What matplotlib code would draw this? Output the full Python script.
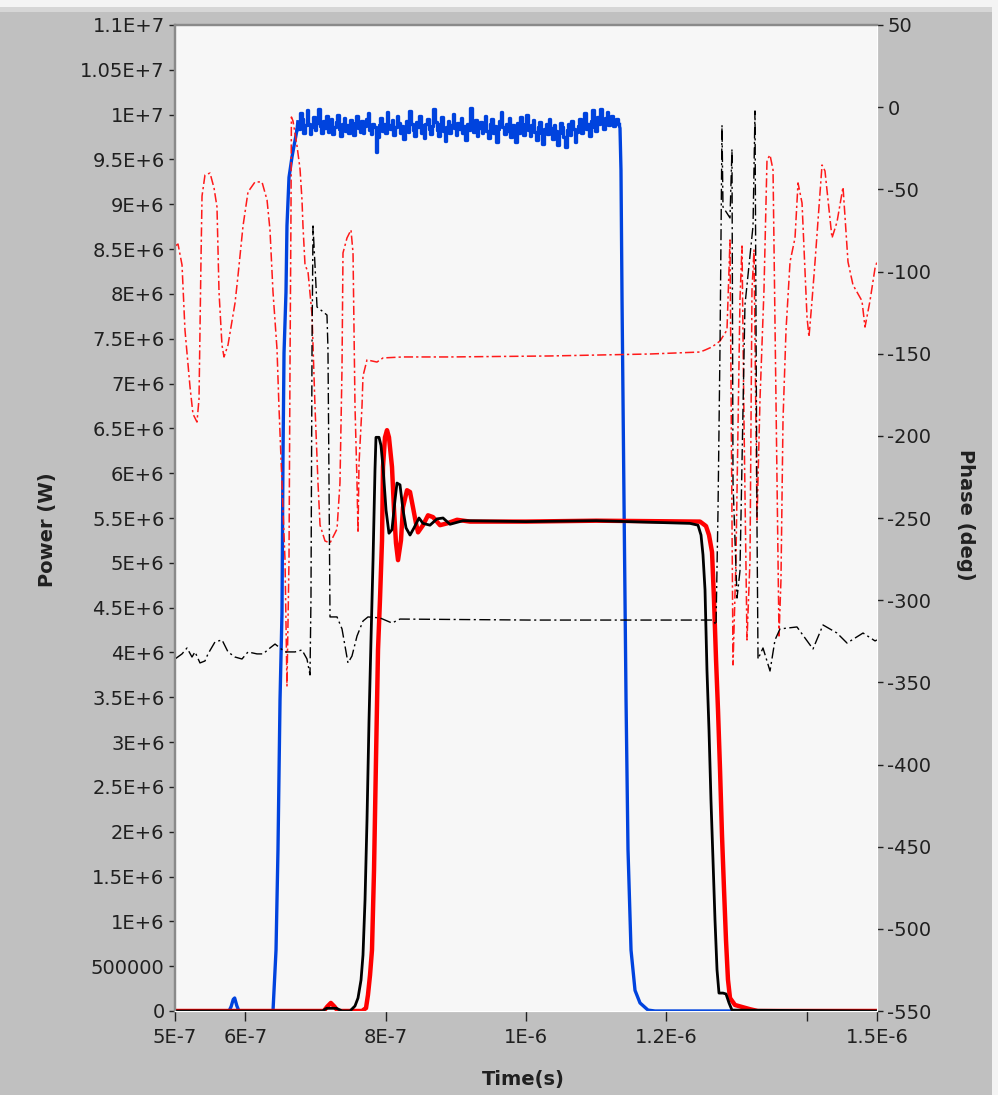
import numpy as np
import matplotlib
matplotlib.use('Agg')
import matplotlib.pyplot as plt
from matplotlib.patches import Rectangle

plt.rcParams['font.family'] = ['DejaVu Sans']

# ---------------- axes / ticks ----------------
x_ticks_ns = [500, 600, 800, 1000, 1200, 1400, 1500]
x_tick_labels = ['5E-7', '6E-7', '8E-7', '1E-6', '1.2E-6', '', '1.5E-6']
power_ticks = [0, 5e5, 1e6, 1.5e6, 2e6, 2.5e6, 3e6, 3.5e6, 4e6, 4.5e6, 5e6, 5.5e6,
               6e6, 6.5e6, 7e6, 7.5e6, 8e6, 8.5e6, 9e6, 9.5e6, 1e7, 1.05e7, 1.1e7]
power_tick_labels = ['0', '500000', '1E+6', '1.5E+6', '2E+6', '2.5E+6', '3E+6', '3.5E+6',
                     '4E+6', '4.5E+6', '5E+6', '5.5E+6', '6E+6', '6.5E+6', '7E+6', '7.5E+6',
                     '8E+6', '8.5E+6', '9E+6', '9.5E+6', '1E+7', '1.05E+7', '1.1E+7']
phase_ticks = [-550, -500, -450, -400, -350, -300, -250, -200, -150, -100, -50, 0, 50]

# ---------------- blue power (MW) ----------------
blue_t = [500, 577, 580, 583, 585, 588, 591, 639.6, 643.9, 646.7, 649.6, 652.4, 653.8,
          655.3, 658.1, 659.5, 662.4, 666.7, 669.5, 673.8]
blue_p = [0, 0, 0.05, 0.13, 0.145, 0.06, 0, 0, 0.68, 1.8, 3.47, 4.44, 6.15,
          7.34, 8.02, 8.76, 9.30, 9.53, 9.65, 9.83]
blue_plateau = [
    9.92, 9.84, 10.02, 9.95, 9.80, 9.88, 10.05, 9.90, 9.78, 9.86, 9.97, 9.83, 9.91, 10.06,
    9.87, 9.79, 9.93, 9.85, 9.98, 9.81, 9.89,
    9.95, 9.78, 9.86, 9.92, 10.00, 9.84, 9.76, 9.90, 9.96, 9.82, 9.88, 9.80, 9.94, 9.87,
    9.77, 9.91, 9.99, 9.85, 9.81, 9.93, 9.79, 9.87, 9.95, 10.02, 9.83, 9.78, 9.90, 9.86,
    9.58, 9.75, 9.88,
    9.96, 9.82, 9.90, 9.79, 10.03, 9.88, 9.84, 9.94, 9.77, 9.86, 9.99, 9.91, 9.80, 9.87,
    9.73, 9.85, 9.93, 9.81, 10.04, 9.89, 9.83, 9.76, 9.92, 9.86, 9.98, 9.80, 9.88, 9.74,
    9.90, 9.95, 9.84,
    9.78, 9.87, 10.06, 9.92, 9.83, 9.76, 9.89, 9.97, 9.82, 9.71, 9.86, 9.93, 9.80, 9.88,
    10.01, 9.85, 9.77, 9.91, 9.84, 9.96, 9.79, 9.87, 9.72, 9.90, 9.83, 10.07, 9.88, 9.81,
    9.94, 9.76, 9.85,
    9.92, 9.79, 9.86, 9.98, 9.82, 9.74, 9.89, 9.95, 9.80, 9.87, 9.70, 9.84, 9.93, 10.03,
    9.86, 9.78, 9.90, 9.82, 9.96, 9.75, 9.88, 9.84, 9.69, 9.91, 9.80, 9.97, 9.85, 9.77,
    9.89, 10.00, 9.83,
    9.76, 9.88, 9.94, 9.81, 9.72, 9.86, 9.92, 9.79, 9.67, 9.84, 9.90, 9.78, 9.95, 9.85,
    9.73, 9.88, 9.82, 9.66, 9.80, 9.91, 9.86, 9.75, 9.64, 9.83, 9.89, 9.77, 9.93, 9.84,
    9.70, 9.81, 9.87,
    9.95, 9.79, 9.88, 10.02, 9.84, 9.90, 9.76, 9.93, 10.05, 9.86, 9.82, 9.97, 9.89, 10.06,
    9.91, 9.84, 9.96, 10.03, 9.88, 9.93, 9.99, 9.87, 9.92, 9.95, 9.90]
blue_plateau_start, blue_plateau_end = 675, 1132
blue_fall_t = [1133.9, 1135.3, 1136.8, 1139.6, 1142.5, 1145.3, 1149.6, 1155.3, 1162.4,
               1173.8, 1183.8, 1500]
blue_fall_p = [9.85, 9.38, 7.93, 5.70, 3.47, 1.80, 0.68, 0.23, 0.09, 0.01, 0, 0]

# ---------------- red power (MW) ----------------
red_t = [500, 712, 717, 722, 727, 732, 766.4, 772.1, 774.9, 777.8, 780.6, 783.5, 786.3, 789.2,
         792.0, 794.9, 796.3, 799.1, 802.0, 804.8, 809.1, 812.0, 814.8, 817.7, 821.9,
         824.8, 830.5, 834.8, 839.0, 843.3, 846.2, 853.3, 860.4, 867.5, 877.5, 887.5,
         901.7, 920.2, 1000, 1100, 1247.9, 1256.4, 1260.7, 1265.0, 1267.8, 1270.7, 1273.5,
         1276.4, 1279.2, 1282.1, 1284.9, 1287.7, 1290.6, 1297.7, 1307.7, 1319.1, 1330, 1500]
red_p = [0, 0, 0.05, 0.09, 0.05, 0, 0, 0.033, 0.18, 0.40, 0.68, 1.57, 2.80, 4.03,
         4.59, 5.25, 6.07, 6.40, 6.48, 6.40, 6.07, 5.59, 5.22, 5.03, 5.25,
         5.62, 5.81, 5.79, 5.62, 5.44, 5.34, 5.42, 5.53, 5.51, 5.42, 5.44,
         5.48, 5.46, 5.46, 5.47, 5.46, 5.41, 5.31, 5.12, 4.59, 3.92, 3.36,
         2.69, 1.96, 1.35, 0.79, 0.35, 0.145, 0.067, 0.045, 0.02, 0, 0]

# ---------------- black power (MW) ----------------
black_t = [500, 710, 716, 730, 738, 749.3, 756.4, 760.7, 765.0, 767.8, 770.7, 773.5, 776.4,
           779.2, 782.1,
           784.9, 786.3, 790.6, 793.4, 796.3, 800.6, 804.8, 809.1, 813.4, 816.2, 820.5,
           824.8, 829.1, 834.8, 840.5, 847.6, 853.3, 863.2, 873.2, 881.8, 891.7, 910.3,
           1000, 1100, 1233.6, 1245.0, 1249.3, 1252.1, 1255.0, 1257.8, 1260.7, 1263.5,
           1266.4, 1269.2, 1272.1, 1274.9, 1280.6, 1284.9, 1289.2, 1293.4, 1500]
black_p = [0, 0, 0.03, 0.03, 0, 0, 0.056, 0.145, 0.346, 0.625, 1.24, 2.13, 3.25, 4.14, 5.03,
           6.04, 6.40, 6.40, 6.31, 6.07, 5.59, 5.33, 5.37, 5.70, 5.89, 5.87,
           5.59, 5.39, 5.31, 5.39, 5.50, 5.44, 5.42, 5.49, 5.50, 5.43, 5.47,
           5.46, 5.47, 5.44, 5.42, 5.31, 5.09, 4.70, 3.80, 3.13, 2.35,
           1.68, 1.02, 0.46, 0.20, 0.20, 0.19, 0.09, 0.01, 0]

# ---------------- red phase (deg) ----------------
red_ph_t = [500, 504.3, 510.0, 514.2, 521.4, 525.6, 531.3, 534.2, 537.0, 538.5, 542.7, 549.9,
            555.6, 559.8, 562.7, 566.9, 569.8, 575.5, 585.5, 589.7, 596.9, 604.0, 614.0,
            623.9, 631.1, 635.3, 639.6, 645.3, 648.1, 652.4, 656.7, 659.5, 662.4, 663.8,
            665.2, 665.8, 668.1, 673.8, 678.1, 680.9, 682.3, 685.2, 689.5, 695.2, 699.4,
            703.7, 706.6, 713.7, 720.8, 730.8, 735.0, 737.9, 739.3, 745.0, 750.7, 753.6,
            756.4, 759.3, 760.7, 762.1, 766.4, 767.8, 773.5, 787.7, 796.3, 824.8, 891.7,
            1034.2, 1176.6, 1247.9, 1255.0, 1265.0, 1276.4, 1286.3,
            1290.6, 1294.9, 1299.1, 1304.8, 1307.7, 1310.5, 1314.8, 1319.1, 1321.9, 1324.8,
            1329.1, 1333.3, 1339.0, 1343.3, 1347.6, 1351.9, 1356.1, 1360.4, 1363.2, 1366.1,
            1370.4, 1376.1, 1383.2, 1387.5, 1393.2, 1400.3, 1403.1, 1407.4, 1411.7, 1421.7,
            1425.9, 1435.9, 1443.0, 1451.6, 1458.7, 1465.8, 1478.6, 1482.9, 1490.0, 1497.2,
            1500]
red_ph = [-84.5, -83.3, -96.0, -135.6, -170.3, -186.7, -191.6, -177.6, -93.6, -54.1, -41.3,
          -40.1, -49.2, -60.7, -112.5, -144.7, -152.0, -144.7, -119.2, -102.7, -72.3, -51.6,
          -45.5, -45.5, -56.5, -74.7, -112.5, -147.2, -182.4, -228.7, -275.5, -352.2, -275.5,
          -158.7, -65.6, -6.0, -8.4, -23.6, -37.6, -56.5, -72.3, -96.0, -100.3, -126.5,
          -181.8, -228.7, -254.3, -264.0, -265.2, -256.7, -228.7, -158.7, -88.7, -79.6,
          -74.7, -88.7, -181.8, -228.7, -259.1, -217.1, -181.8, -163.6, -153.8, -155.1,
          -152.6, -152.0, -152.0, -151.4, -150.2, -149.0, -147.8, -145.9, -142.3, -135.6,
          -80.8, -339.4, -275.5, -117.3, -84.5, -190.4, -324.2, -275.5, -111.3, -86.9,
          -251.2, -178.2, -111.3, -32.1, -29.1, -38.2, -178.2, -321.8, -287.7, -190.4,
          -135.6, -94.2, -79.6, -46.1, -58.3, -127.7, -139.9, -117.9, -94.2, -35.2,
          -38.8, -79.6, -69.9, -48.6, -94.2, -108.2, -117.9, -133.8, -117.9, -97.9,
          -94.2]

# ---------------- black phase (deg) ----------------
black_ph_t = [500, 510.0, 517.1, 524.2, 528.5, 535.6, 542.7, 547.0, 557.0, 567.0, 575.5,
              585.5, 595.4, 604.0, 616.8, 625.4, 635.3, 642.5, 656.7, 670.9, 680.9, 688.0,
              692.3, 693.7, 695.2, 696.6, 699.4, 702.3, 709.4, 716.5, 717.9, 719.4, 720.8,
              730.8, 737.9, 746.4, 752.1, 759.3, 767.8, 774.9, 792.0, 809.1, 820.5, 1005.7,
              1247.9, 1266.4, 1270.7, 1273.5, 1276.4, 1279.2, 1280.6, 1290.6, 1293.4, 1294.9,
              1300.6, 1304.8, 1311.9, 1323.4, 1326.2, 1329.1, 1330.5, 1337.6, 1347.6, 1354.7,
              1361.8, 1386.0, 1408.8, 1423.1, 1443.0, 1457.3, 1480.1, 1497.2, 1500]
black_ph = [-335.8, -332.7, -329.1, -334.6, -331.5, -338.2, -337.0, -332.7, -325.4, -324.2,
            -331.5, -334.6, -335.8, -331.5, -332.7, -332.7, -329.1, -326.7, -331.5, -331.5,
            -330.3, -335.8, -345.5, -298.7, -144.7, -72.3, -96.0, -121.6, -124.0, -126.5,
            -147.2, -228.7, -310.2, -310.2, -317.5, -338.2, -334.0, -321.8, -312.7, -310.2,
            -310.8, -313.9, -311.5, -312.1, -312.1, -312.1, -315.1, -245.7, -144.7, -10.9,
            -60.7, -67.4, -25.5, -228.7, -298.7, -282.2, -120.4, -72.3, -2.3, -256.7,
            -335.8, -329.1, -343.1, -324.2, -317.5, -316.3, -329.7, -315.1, -320.0, -326.1,
            -320.0, -324.8, -324.2]

# ---------------- figure ----------------
W, H = 998, 1095
fig = plt.figure(figsize=(W / 100, H / 100), dpi=100)
fig.patch.set_facecolor('#c0c0c0')
fig.patches.append(Rectangle((0, 1 - 7 / H), 1, 7 / H, transform=fig.transFigure,
                             facecolor='#f4f4f4', edgecolor='none', zorder=0))
fig.patches.append(Rectangle((0, 1 - 12 / H), 1, 5 / H, transform=fig.transFigure,
                             facecolor='#d6d6d6', edgecolor='none', zorder=0))
fig.patches.append(Rectangle((1 - 6 / W, 0), 6 / W, 1, transform=fig.transFigure,
                             facecolor='#f4f4f4', edgecolor='none', zorder=0))

ax = fig.add_axes([175 / W, (H - 1011) / H, (877 - 175) / W, (1011 - 25) / H])
ax.set_facecolor('#f7f7f7')
ax2 = ax.twinx()
ax2.patch.set_visible(False)

to_s = 1e-9
# rising/falling edges drawn as lines, plateau drawn as a sampled step trace
ax.plot(np.array(blue_t) * to_s, np.array(blue_p) * 1e6, color='#0043de', lw=2.4, zorder=3)
pt = np.linspace(blue_plateau_start, blue_plateau_end, len(blue_plateau)) * to_s
ax.plot(pt, np.array(blue_plateau) * 1e6, color='#0043de', lw=2.4, zorder=3,
        drawstyle='steps-mid')
ax.plot(np.concatenate([[pt[-1]], np.array(blue_fall_t) * to_s]),
        np.concatenate([[blue_plateau[-1]], blue_fall_p]) * 1e6,
        color='#0043de', lw=2.4, zorder=3)
ax.plot([blue_t[-1] * to_s, pt[0]], [blue_p[-1] * 1e6, blue_plateau[0] * 1e6],
        color='#0043de', lw=2.4, zorder=3)

ax.plot(np.array(red_t) * to_s, np.array(red_p) * 1e6, color='#ff0000', lw=3.2, zorder=4)
ax.plot(np.array(black_t) * to_s, np.array(black_p) * 1e6, color='#000000', lw=2.0, zorder=5)

ax2.plot(np.array(red_ph_t) * to_s, red_ph, color='#ff1a1a', lw=1.1,
         linestyle=(0, (6, 2, 1.5, 2)))
ax2.plot(np.array(black_ph_t) * to_s, black_ph, color='#000000', lw=1.0,
         linestyle=(0, (8, 2.5, 1.5, 2.5)))

ax.set_xlim(5e-7, 1.5e-6)
ax.set_ylim(0, 1.1e7)
ax2.set_ylim(-550, 50)

ax.set_xticks(np.array(x_ticks_ns) * to_s)
ax.set_xticklabels(x_tick_labels)
ax.set_yticks(power_ticks)
ax.set_yticklabels(power_tick_labels)
ax2.set_yticks(phase_ticks)
ax2.set_yticklabels([str(v) for v in phase_ticks])

tick_color = '#202020'
ax.tick_params(axis='y', direction='out', length=4.5, width=1.0, pad=3,
               labelsize=14, colors=tick_color)
ax.tick_params(axis='x', direction='out', length=7, width=1.0, pad=5,
               labelsize=14, colors=tick_color)
ax2.tick_params(axis='y', direction='out', length=4.5, width=1.0, pad=3,
                labelsize=14, colors=tick_color)

for a in (ax, ax2):
    a.spines['top'].set_color('#8a8a8a')
    a.spines['top'].set_linewidth(1.6)
    a.spines['left'].set_color('#8a8a8a')
    a.spines['left'].set_linewidth(1.6)
    a.spines['right'].set_color('#ffffff')
    a.spines['bottom'].set_color('#ffffff')

fig.text(47 / W, 1 - 530 / H, 'Power (W)', rotation=90, ha='center', va='center',
         fontsize=14, fontweight='bold', color='#202020')
fig.text(965 / W, 1 - 515 / H, 'Phase (deg)', rotation=270, ha='center', va='center',
         fontsize=14, fontweight='bold', color='#202020')
fig.text(523 / W, 1 - 1080 / H, 'Time(s)', ha='center', va='center',
         fontsize=14, fontweight='bold', color='#202020')

fig.savefig('out.png', dpi=100, facecolor=fig.get_facecolor())
